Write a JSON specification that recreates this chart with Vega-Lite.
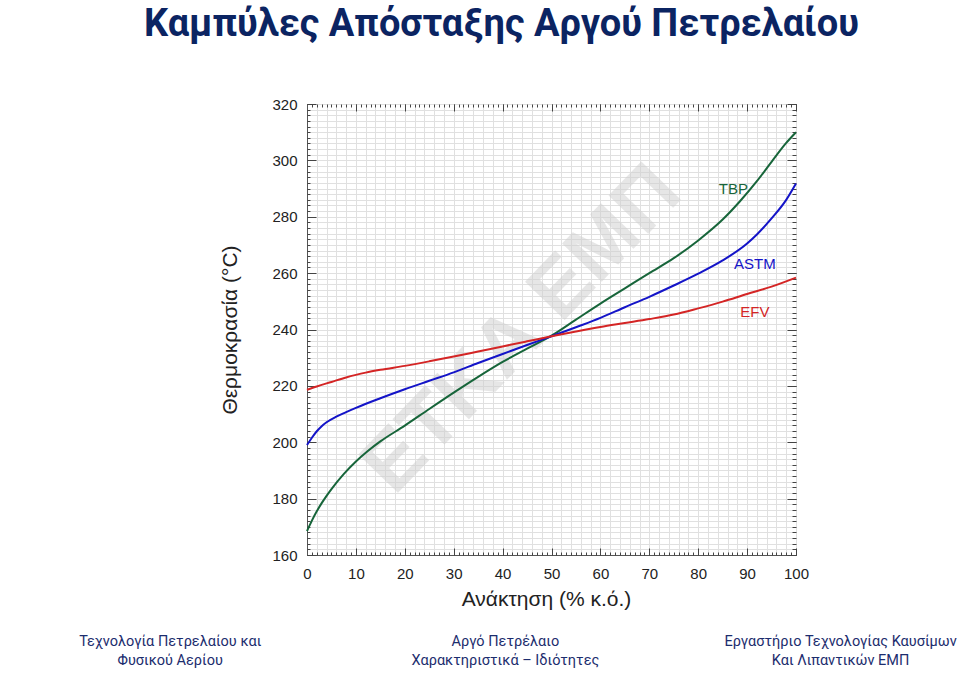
{
  "$schema": "https://vega.github.io/schema/vega-lite/v6.json",
  "width": 489,
  "height": 451,
  "autosize": {"type": "none"},
  "padding": {"left": 307, "top": 104, "right": 164, "bottom": 129},
  "background": "#ffffff",
  "title": {
    "text": "Καμπύλες Απόσταξης Αργού Πετρελαίου",
    "font": "Roboto",
    "fontSize": 38,
    "fontWeight": "bold",
    "color": "#0b2462",
    "anchor": "middle",
    "frame": "group",
    "baseline": "alphabetic",
    "offset": 23,
    "dx": -50
  },
  "config": {
    "view": {"stroke": "#555555", "strokeWidth": 1},
    "axis": {
      "domainColor": "#555555",
      "tickColor": "#444444",
      "tickWidth": 1,
      "labelFont": "Liberation Sans",
      "labelFontSize": 15,
      "labelColor": "#222222",
      "titleFont": "Liberation Sans",
      "titleFontWeight": "normal",
      "titleFontSize": 21,
      "titleColor": "#222222",
      "gridColor": "#e0e0e0",
      "gridWidth": 1
    }
  },
  "datasets": {
    "curves": [
      {"series": "TBP", "x": 0, "t": 168.5},
      {"series": "TBP", "x": 1, "t": 172.2},
      {"series": "TBP", "x": 2, "t": 175.5},
      {"series": "TBP", "x": 3, "t": 178.4},
      {"series": "TBP", "x": 4, "t": 181.0},
      {"series": "TBP", "x": 5, "t": 183.4},
      {"series": "TBP", "x": 7.5, "t": 188.7},
      {"series": "TBP", "x": 10, "t": 193.2},
      {"series": "TBP", "x": 12.5, "t": 197.0},
      {"series": "TBP", "x": 15, "t": 200.3},
      {"series": "TBP", "x": 20, "t": 205.9},
      {"series": "TBP", "x": 25, "t": 211.8},
      {"series": "TBP", "x": 30, "t": 217.6},
      {"series": "TBP", "x": 35, "t": 223.2},
      {"series": "TBP", "x": 40, "t": 228.5},
      {"series": "TBP", "x": 45, "t": 233.2},
      {"series": "TBP", "x": 50, "t": 237.8},
      {"series": "TBP", "x": 55, "t": 243.5},
      {"series": "TBP", "x": 60, "t": 249.2},
      {"series": "TBP", "x": 65, "t": 254.6},
      {"series": "TBP", "x": 70, "t": 260.0},
      {"series": "TBP", "x": 75, "t": 265.3},
      {"series": "TBP", "x": 80, "t": 271.6},
      {"series": "TBP", "x": 85, "t": 279.0},
      {"series": "TBP", "x": 88.5, "t": 285.4},
      {"series": "TBP", "x": 92, "t": 292.6},
      {"series": "TBP", "x": 95, "t": 299.5},
      {"series": "TBP", "x": 98, "t": 306.2},
      {"series": "TBP", "x": 100, "t": 310.0},
      {"series": "ASTM", "x": 0, "t": 199.0},
      {"series": "ASTM", "x": 1, "t": 201.6},
      {"series": "ASTM", "x": 2, "t": 203.9},
      {"series": "ASTM", "x": 3, "t": 205.7},
      {"series": "ASTM", "x": 4, "t": 207.1},
      {"series": "ASTM", "x": 6, "t": 209.1},
      {"series": "ASTM", "x": 8, "t": 210.7},
      {"series": "ASTM", "x": 10, "t": 212.2},
      {"series": "ASTM", "x": 15, "t": 215.6},
      {"series": "ASTM", "x": 20, "t": 218.8},
      {"series": "ASTM", "x": 25, "t": 221.8},
      {"series": "ASTM", "x": 30, "t": 224.8},
      {"series": "ASTM", "x": 35, "t": 228.1},
      {"series": "ASTM", "x": 40, "t": 231.3},
      {"series": "ASTM", "x": 45, "t": 234.5},
      {"series": "ASTM", "x": 50, "t": 237.6},
      {"series": "ASTM", "x": 55, "t": 240.8},
      {"series": "ASTM", "x": 60, "t": 244.1},
      {"series": "ASTM", "x": 65, "t": 247.9},
      {"series": "ASTM", "x": 70, "t": 251.6},
      {"series": "ASTM", "x": 75, "t": 255.6},
      {"series": "ASTM", "x": 80, "t": 259.8},
      {"series": "ASTM", "x": 85, "t": 264.5},
      {"series": "ASTM", "x": 90, "t": 270.5},
      {"series": "ASTM", "x": 92, "t": 273.7},
      {"series": "ASTM", "x": 95, "t": 279.4},
      {"series": "ASTM", "x": 98, "t": 286.0},
      {"series": "ASTM", "x": 100, "t": 291.8},
      {"series": "EFV", "x": 0, "t": 218.6},
      {"series": "EFV", "x": 2, "t": 219.8},
      {"series": "EFV", "x": 5, "t": 221.4},
      {"series": "EFV", "x": 8, "t": 223.0},
      {"series": "EFV", "x": 10, "t": 223.9},
      {"series": "EFV", "x": 12, "t": 224.7},
      {"series": "EFV", "x": 15, "t": 225.7},
      {"series": "EFV", "x": 20, "t": 227.1},
      {"series": "EFV", "x": 25, "t": 228.7},
      {"series": "EFV", "x": 30, "t": 230.4},
      {"series": "EFV", "x": 35, "t": 232.2},
      {"series": "EFV", "x": 40, "t": 234.0},
      {"series": "EFV", "x": 45, "t": 235.8},
      {"series": "EFV", "x": 50, "t": 237.6},
      {"series": "EFV", "x": 55, "t": 239.3},
      {"series": "EFV", "x": 60, "t": 240.9},
      {"series": "EFV", "x": 65, "t": 242.3},
      {"series": "EFV", "x": 70, "t": 243.7},
      {"series": "EFV", "x": 75, "t": 245.3},
      {"series": "EFV", "x": 80, "t": 247.5},
      {"series": "EFV", "x": 85, "t": 249.9},
      {"series": "EFV", "x": 90, "t": 252.6},
      {"series": "EFV", "x": 95, "t": 255.2},
      {"series": "EFV", "x": 100, "t": 258.4}
    ],
    "labels": [
      {"series": "TBP", "x": 87.2, "t": 289.7},
      {"series": "ASTM", "x": 91.6, "t": 263.1},
      {"series": "EFV", "x": 91.6, "t": 246.2}
    ],
    "footer": [
      {"slot": 0, "text": "Τεχνολογία Πετρελαίου και\nΦυσικού Αερίου"},
      {"slot": 1, "text": "Αργό Πετρέλαιο\nΧαρακτηριστικά – Ιδιότητες"},
      {"slot": 2, "text": "Εργαστήριο Τεχνολογίας Καυσίμων\nΚαι Λιπαντικών ΕΜΠ"}
    ]
  },
  "layer": [
    {
      "data": {"values": [{"mark": "ΕΤΚΑ ΕΜΠ"}]},
      "mark": {"type": "text", "angle": -46, "font": "Liberation Sans", "fontWeight": "bold", "fontSize": 80, "fill": "#cfcfcf", "opacity": 0.5, "align": "center", "baseline": "middle"},
      "encoding": {
        "x": {"datum": 44, "type": "quantitative", "scale": {"domain": [0, 100], "nice": false, "zero": false}, "axis": null},
        "y": {"datum": 240, "type": "quantitative", "scale": {"domain": [160, 320], "nice": false, "zero": false}, "axis": null},
        "text": {"field": "mark"}
      }
    },
    {
      "data": {"name": "curves"},
      "mark": {"type": "line", "strokeWidth": 2, "interpolate": "monotone"},
      "encoding": {
        "x": {
          "field": "x", "type": "quantitative",
          "scale": {"domain": [0, 100], "nice": false, "zero": false},
          "axis": {
            "orient": "bottom",
            "values": [0,2,4,6,8,10,12,14,16,18,20,22,24,26,28,30,32,34,36,38,40,42,44,46,48,50,52,54,56,58,60,62,64,66,68,70,72,74,76,78,80,82,84,86,88,90,92,94,96,98,100],
            "grid": true,
            "ticks": false,
            "labelExpr": "datum.value % 10 === 0 ? datum.label : ''",
            "labelPadding": 11,
            "labelOverlap": false,
            "labelFlush": false,
            "title": "Ανάκτηση (% κ.ό.)",
            "titlePadding": 7,
            "titleX": 239
          }
        },
        "y": {
          "field": "t", "type": "quantitative",
          "scale": {"domain": [160, 320], "nice": false, "zero": false},
          "axis": {
            "orient": "left",
            "values": [160,162,164,166,168,170,172,174,176,178,180,182,184,186,188,190,192,194,196,198,200,202,204,206,208,210,212,214,216,218,220,222,224,226,228,230,232,234,236,238,240,242,244,246,248,250,252,254,256,258,260,262,264,266,268,270,272,274,276,278,280,282,284,286,288,290,292,294,296,298,300,302,304,306,308,310,312,314,316,318,320],
            "grid": true,
            "ticks": false,
            "labelExpr": "datum.value % 20 === 0 ? datum.label : ''",
            "labelPadding": 10,
            "labelOverlap": false,
            "labelFlush": false,
            "title": "Θερμοκρασία (°C)",
            "titlePadding": 31
          }
        },
        "color": {"field": "series", "type": "nominal", "scale": {"domain": ["TBP", "ASTM", "EFV"], "range": ["#17653a", "#1414c8", "#d42525"]}, "legend": null}
      }
    },
    {
      "data": {"name": "labels"},
      "mark": {"type": "text", "font": "Liberation Sans", "fontSize": 15, "align": "center", "baseline": "middle"},
      "encoding": {
        "x": {
          "field": "x", "type": "quantitative",
          "scale": {"domain": [0, 100], "nice": false, "zero": false},
          "axis": {"orient": "top", "values": [0,10,20,30,40,50,60,70,80,90,100], "offset": -7, "tickSize": 7, "domain": false, "grid": false, "labels": false, "title": null}
        },
        "y": {
          "field": "t", "type": "quantitative",
          "scale": {"domain": [160, 320], "nice": false, "zero": false},
          "axis": {"orient": "right", "values": [160,180,200,220,240,260,280,300,320], "offset": -9, "tickSize": 9, "domain": false, "grid": false, "labels": false, "title": null}
        },
        "text": {"field": "series"},
        "color": {"field": "series", "type": "nominal", "scale": {"domain": ["TBP", "ASTM", "EFV"], "range": ["#17653a", "#1414c8", "#d42525"]}, "legend": null}
      }
    },
    {
      "data": {"name": "curves"},
      "mark": {"type": "point", "opacity": 0},
      "encoding": {
        "x": {
          "field": "x", "type": "quantitative",
          "scale": {"domain": [0, 100], "nice": false, "zero": false},
          "axis": {"orient": "top", "values": [0,1,2,3,4,5,6,7,8,9,10,11,12,13,14,15,16,17,18,19,20,21,22,23,24,25,26,27,28,29,30,31,32,33,34,35,36,37,38,39,40,41,42,43,44,45,46,47,48,49,50,51,52,53,54,55,56,57,58,59,60,61,62,63,64,65,66,67,68,69,70,71,72,73,74,75,76,77,78,79,80,81,82,83,84,85,86,87,88,89,90,91,92,93,94,95,96,97,98,99,100], "offset": -3, "tickSize": 3, "domain": false, "grid": false, "labels": false, "title": null}
        },
        "y": {
          "field": "t", "type": "quantitative",
          "scale": {"domain": [160, 320], "nice": false, "zero": false},
          "axis": {"orient": "right", "values": [160,162,164,166,168,170,172,174,176,178,180,182,184,186,188,190,192,194,196,198,200,202,204,206,208,210,212,214,216,218,220,222,224,226,228,230,232,234,236,238,240,242,244,246,248,250,252,254,256,258,260,262,264,266,268,270,272,274,276,278,280,282,284,286,288,290,292,294,296,298,300,302,304,306,308,310,312,314,316,318,320], "offset": -4, "tickSize": 4, "domain": false, "grid": false, "labels": false, "title": null}
        }
      }
    },
    {
      "data": {"name": "curves"},
      "mark": {"type": "point", "opacity": 0},
      "encoding": {
        "x": {
          "field": "x", "type": "quantitative",
          "scale": {"domain": [0, 100], "nice": false, "zero": false},
          "axis": {"orient": "bottom", "values": [0,10,20,30,40,50,60,70,80,90,100], "offset": -7, "tickSize": 7, "domain": false, "grid": false, "labels": false, "title": null}
        },
        "y": {
          "field": "t", "type": "quantitative",
          "scale": {"domain": [160, 320], "nice": false, "zero": false},
          "axis": {"orient": "left", "values": [160,180,200,220,240,260,280,300,320], "offset": -9, "tickSize": 9, "domain": false, "grid": false, "labels": false, "title": null}
        }
      }
    },
    {
      "data": {"name": "curves"},
      "mark": {"type": "point", "opacity": 0},
      "encoding": {
        "x": {
          "field": "x", "type": "quantitative",
          "scale": {"domain": [0, 100], "nice": false, "zero": false},
          "axis": {"orient": "bottom", "values": [0,1,2,3,4,5,6,7,8,9,10,11,12,13,14,15,16,17,18,19,20,21,22,23,24,25,26,27,28,29,30,31,32,33,34,35,36,37,38,39,40,41,42,43,44,45,46,47,48,49,50,51,52,53,54,55,56,57,58,59,60,61,62,63,64,65,66,67,68,69,70,71,72,73,74,75,76,77,78,79,80,81,82,83,84,85,86,87,88,89,90,91,92,93,94,95,96,97,98,99,100], "offset": -3, "tickSize": 3, "domain": false, "grid": false, "labels": false, "title": null}
        },
        "y": {
          "field": "t", "type": "quantitative",
          "scale": {"domain": [160, 320], "nice": false, "zero": false},
          "axis": {"orient": "left", "values": [160,162,164,166,168,170,172,174,176,178,180,182,184,186,188,190,192,194,196,198,200,202,204,206,208,210,212,214,216,218,220,222,224,226,228,230,232,234,236,238,240,242,244,246,248,250,252,254,256,258,260,262,264,266,268,270,272,274,276,278,280,282,284,286,288,290,292,294,296,298,300,302,304,306,308,310,312,314,316,318,320], "offset": -3, "tickSize": 3, "domain": false, "grid": false, "labels": false, "title": null}
        }
      }
    },
    {
      "data": {"name": "footer"},
      "mark": {"type": "text", "font": "Roboto", "fontSize": 14.5, "fill": "#1c2d6e", "align": "center", "baseline": "middle", "lineBreak": "\n", "lineHeight": 19},
      "encoding": {
        "x": {"field": "slot", "type": "quantitative", "scale": {"domain": [0.408, 1.867], "nice": false, "zero": false}, "axis": null},
        "y": {"datum": 129, "type": "quantitative", "scale": {"domain": [160, 320], "nice": false, "zero": false}, "axis": null},
        "text": {"field": "text"}
      }
    }
  ],
  "resolve": {
    "scale": {"x": "independent", "y": "independent"},
    "axis": {"x": "independent", "y": "independent"}
  }
}
